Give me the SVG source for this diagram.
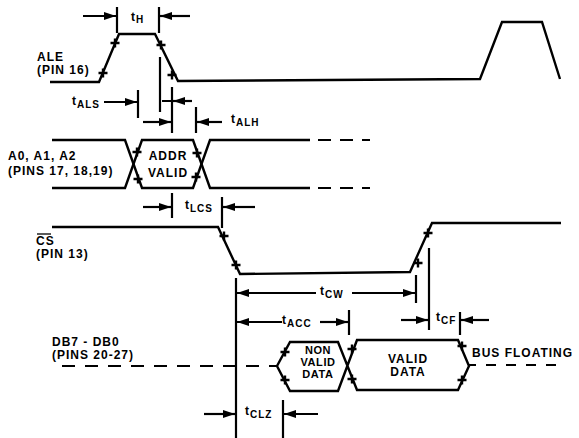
<svg xmlns="http://www.w3.org/2000/svg" width="579" height="438" viewBox="0 0 579 438">
<style>
.w{fill:none;stroke:#000;stroke-width:2.4;stroke-linejoin:miter}
.d{fill:none;stroke:#000;stroke-width:2.2}
.a{fill:none;stroke:#000;stroke-width:2.2;marker-end:url(#ah)}
.tk{fill:none;stroke:#000;stroke-width:2.4}
text{font-family:"Liberation Sans",Arial,sans-serif;font-weight:bold;font-size:12px;letter-spacing:1px;fill:#000}
.m{text-anchor:middle}
.n{font-size:11px;letter-spacing:0.6px}
.s{font-size:10px}
</style>
<defs>
<marker id="ah" markerWidth="12" markerHeight="8" refX="12" refY="4" orient="auto" markerUnits="userSpaceOnUse"><path d="M0,0L12,4L0,8z" fill="#000"/></marker>
<path id="tick" d="M-4.5,0H4.5M0,-4.5V4.5" class="tk"/>
</defs>
<rect width="579" height="438" fill="#fff"/>

<g id="ale">
<path class="w" d="M50,82H99L119,34H155L178,81L480,79L502,22H542L560,79"/>
<use href="#tick" x="115" y="43"/><use href="#tick" x="103" y="73"/>
<use href="#tick" x="161" y="45"/><use href="#tick" x="172" y="75"/>
<text x="37" y="61">ALE</text>
<text x="37" y="74">(PIN 16)</text>
</g>

<g id="addr">
<path class="w" d="M52,140H125L142,188H193L210,140H310"/>
<path class="w" d="M52,188H125L142,140H193L210,188H310"/>
<path class="d" d="M318,140H370M318,188H370" stroke-dasharray="13 9"/>
<use href="#tick" x="137" y="152"/><use href="#tick" x="138" y="179"/>
<use href="#tick" x="197" y="153"/><use href="#tick" x="196" y="177"/>
<text x="8" y="160">A0, A1, A2</text>
<text x="8" y="175">(PINS 17, 18,19)</text>
<text class="m" x="168" y="160">ADDR</text>
<text class="m" x="168" y="177">VALID</text>
</g>

<g id="cs">
<path class="w" d="M52,227H218L240,274L410,272L432,223H561"/>
<use href="#tick" x="224" y="236"/><use href="#tick" x="236" y="265"/>
<use href="#tick" x="428" y="233"/><use href="#tick" x="418" y="263"/>
<line x1="37" y1="234" x2="51" y2="234" stroke="#000" stroke-width="1.3"/>
<text x="36" y="245">CS</text>
<text x="36" y="258">(PIN 13)</text>
</g>

<g id="db">
<path class="d" d="M62,366H277" stroke-dasharray="13 10"/>
<path class="w" d="M277,366L290,342H338L357,390H458L469,366L458,340H357L338,391H290Z"/>
<path class="d" d="M469,365H476M486,365H566" stroke-dasharray="10 10"/>
<use href="#tick" x="285" y="352"/><use href="#tick" x="285" y="380"/>
<use href="#tick" x="352" y="349"/><use href="#tick" x="352" y="379"/>
<use href="#tick" x="462" y="346"/><use href="#tick" x="462" y="380"/>
<text x="52" y="346">DB7 - DB0</text>
<text x="52" y="359">(PINS 20-27)</text>
<text class="m n" x="318" y="354">NON</text>
<text class="m n" x="318" y="366">VALID</text>
<text class="m n" x="318" y="378">DATA</text>
<text class="m" x="408" y="363">VALID</text>
<text class="m" x="408" y="376">DATA</text>
<text x="472" y="357">BUS FLOATING</text>
</g>

<g id="connectors">
<path class="d" d="M117,7V33M159,7V33"/>
<line class="a" x1="83" y1="16" x2="116" y2="16"/>
<line class="a" x1="190" y1="16" x2="160" y2="16"/>
<text x="131" y="21">t<tspan class="s" dy="2">H</tspan></text>

<path class="d" d="M138,90V118M160,57V112M172,87V133M196,107V133M162,101H172"/>
<line class="a" x1="104" y1="102" x2="137" y2="102"/>
<line class="a" x1="192" y1="101" x2="173" y2="101"/>
<line class="a" x1="143" y1="122" x2="171" y2="122"/>
<line class="a" x1="222" y1="122" x2="197" y2="122"/>
<text x="72" y="105">t<tspan class="s" dy="3">ALS</tspan></text>
<text x="231" y="123">t<tspan class="s" dy="3">ALH</tspan></text>

<path class="d" d="M172,193V218M222,197V228"/>
<line class="a" x1="143" y1="207" x2="171" y2="207"/>
<line class="a" x1="255" y1="207" x2="223" y2="207"/>
<text x="185" y="209">t<tspan class="s" dy="3">LCS</tspan></text>

<path class="d" d="M236,278V438M416,275V303"/>
<line class="a" x1="316" y1="293" x2="237" y2="293"/>
<line class="a" x1="352" y1="293" x2="415" y2="293"/>
<text x="320" y="295">t<tspan class="s" dy="3">CW</tspan></text>

<path class="d" d="M349,310V335"/>
<line class="a" x1="282" y1="322" x2="237" y2="322"/>
<line class="a" x1="320" y1="322" x2="348" y2="322"/>
<text x="282" y="324">t<tspan class="s" dy="3">ACC</tspan></text>

<path class="d" d="M429,248V330M460,312V335"/>
<line class="a" x1="401" y1="320" x2="428" y2="320"/>
<line class="a" x1="489" y1="320" x2="461" y2="320"/>
<text x="436" y="321">t<tspan class="s" dy="3">CF</tspan></text>

<path class="d" d="M283,400V438"/>
<line class="a" x1="204" y1="414" x2="235" y2="414"/>
<line class="a" x1="318" y1="414" x2="284" y2="414"/>
<text x="245" y="415">t<tspan class="s" dy="3">CLZ</tspan></text>
</g>
</svg>
